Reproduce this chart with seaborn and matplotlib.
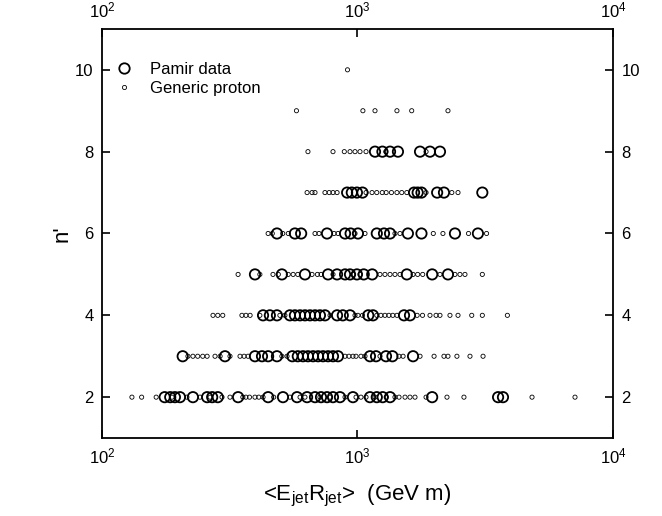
import matplotlib
matplotlib.use("Agg")
import matplotlib.pyplot as plt
import seaborn as sns
import pandas as pd
from matplotlib.lines import Line2D

# ---- data: <E_jet R_jet> (GeV m) values per multiplicity n' ----
pamir_2 = [176, 185, 193, 202, 227, 258, 270, 284, 341, 447, 511, 580, 635, 682, 720,
           760, 802, 854, 960, 1119, 1190, 1255, 1341, 1960, 3550, 3710]
pamir_3 = [207, 303, 397, 423, 447, 484, 556, 584, 612, 640, 670, 701, 733, 767, 802,
           839, 1119, 1182, 1293, 1370, 1650]
pamir_4 = [427, 454, 484, 544, 569, 596, 623, 652, 682, 713, 746, 832, 876, 935, 1102,
           1150, 1521, 1605]
pamir_5 = [397, 506, 623, 767, 832, 894, 935, 995, 1058, 1142, 1560, 1960, 2260]
pamir_6 = [484, 569, 602, 760, 894, 940, 1004, 1190, 1270, 1341, 1575, 1780, 2407, 2960]
pamir_7 = [911, 950, 995, 1046, 1665, 1720, 1780, 2050, 2180, 3080]
pamir_8 = [1171, 1252, 1341, 1440, 1757, 1922, 2103]

gen_2 = [131, 143, 163, 188, 215, 242, 265, 295, 317, 356, 366, 378, 397, 411, 427, 470,
         544, 596, 623, 713, 781, 894, 987, 1032, 1080, 1171, 1295, 1402, 1454, 1535,
         1605, 1679, 1855, 2240, 2610, 4820, 7100]
gen_3 = [217, 227, 237, 248, 258, 277, 290, 317, 347, 360, 373, 506, 530, 894, 926, 960,
         987, 1032, 1070, 1225, 1454, 1508, 1757, 1994, 2180, 2260, 2450, 2756, 3100]
gen_4 = [272, 284, 297, 353, 366, 380, 415, 497, 520, 781, 978, 1004, 1046, 1190, 1235,
         1281, 1327, 1375, 1427, 1712, 1797, 1922, 2030, 2103, 2301, 2474, 2800, 3080, 3860]
gen_5 = [341, 415, 467, 490, 536, 560, 584, 664, 697, 720, 802, 960, 1023, 1225, 1281,
         1341, 1402, 1467, 1650, 1720, 1800, 2103, 2407, 2518, 2634, 3080]
gen_6 = [447, 464, 510, 536, 682, 707, 810, 839, 978, 1070, 1402, 1467, 1980, 2160, 2720, 3200]
gen_7 = [635, 664, 682, 746, 775, 802, 832, 1080, 1140, 1190, 1250, 1295, 1358, 1427,
         1490, 1560, 1855, 2340, 2474]
gen_8 = [640, 802, 888, 935, 978, 1023, 1080, 1290, 1855]
gen_9 = [577, 1050, 1171, 1427, 1630, 2260]
gen_10 = [914]

pamir_rows = {2: pamir_2, 3: pamir_3, 4: pamir_4, 5: pamir_5, 6: pamir_6, 7: pamir_7, 8: pamir_8}
gen_rows = {2: gen_2, 3: gen_3, 4: gen_4, 5: gen_5, 6: gen_6, 7: gen_7, 8: gen_8,
            9: gen_9, 10: gen_10}

x_ticks = [1e2, 1e3, 1e4]
y_ticks = [2, 4, 6, 8, 10]

def to_df(rows, label):
    recs = [(e, n, label) for n, vals in rows.items() for e in vals]
    return pd.DataFrame(recs, columns=["E", "n", "source"])

df_p = to_df(pamir_rows, "Pamir data")
df_g = to_df(gen_rows, "Generic proton")

sns.set_style("ticks", {"axes.edgecolor": "black", "text.color": "black",
                        "axes.labelcolor": "black", "xtick.color": "black",
                        "ytick.color": "black"})
plt.rcParams["font.family"] = ["Liberation Sans", "DejaVu Sans"]
plt.rcParams["mathtext.fontset"] = "custom"
plt.rcParams["mathtext.rm"] = "Liberation Sans"

fig = plt.figure(figsize=(6.62, 5.16), dpi=100)
ax = fig.add_axes([0.154, 0.151, 0.772, 0.793])

sns.scatterplot(data=df_p, x="E", y="n", ax=ax, marker="o", s=55,
                facecolor="none", edgecolor="black", linewidth=1.3, legend=False, zorder=2)
sns.scatterplot(data=df_g, x="E", y="n", ax=ax, marker="o", s=9,
                facecolor="none", edgecolor="black", linewidth=0.6, legend=False, zorder=3)

ax.set_xscale("log")
ax.set_xlim(1e2, 1e4)
ax.set_ylim(1, 11)
ax.set_xticks(x_ticks)
ax.set_yticks(y_ticks)
ax.minorticks_off()
ax.tick_params(direction="in", length=6, width=1.2, top=True, right=True,
               labeltop=True, labelright=True, labelsize=12, pad=6, colors="black")
for sp in ax.spines.values():
    sp.set_linewidth(1.3)
    sp.set_color("black")

ax.set_xlabel(r"<E$_{\mathrm{jet}}$R$_{\mathrm{jet}}$>  (GeV m)", fontsize=16, labelpad=12,
              color="black")
ax.set_ylabel("n'", fontsize=16, labelpad=2, color="black")

handles = [
    Line2D([], [], marker="o", linestyle="none", markersize=7.5, markerfacecolor="none",
           markeredgecolor="black", markeredgewidth=1.3),
    Line2D([], [], marker="o", linestyle="none", markersize=3, markerfacecolor="none",
           markeredgecolor="black", markeredgewidth=0.6),
]
leg = ax.legend(handles, ["Pamir data", "Generic proton"], loc="upper left", frameon=False,
                fontsize=12, bbox_to_anchor=(-0.01, 0.955), handlelength=1.5,
                handletextpad=0.8, labelspacing=0.2)
for t in leg.get_texts():
    t.set_color("black")

fig.savefig("out.png", dpi=100)
